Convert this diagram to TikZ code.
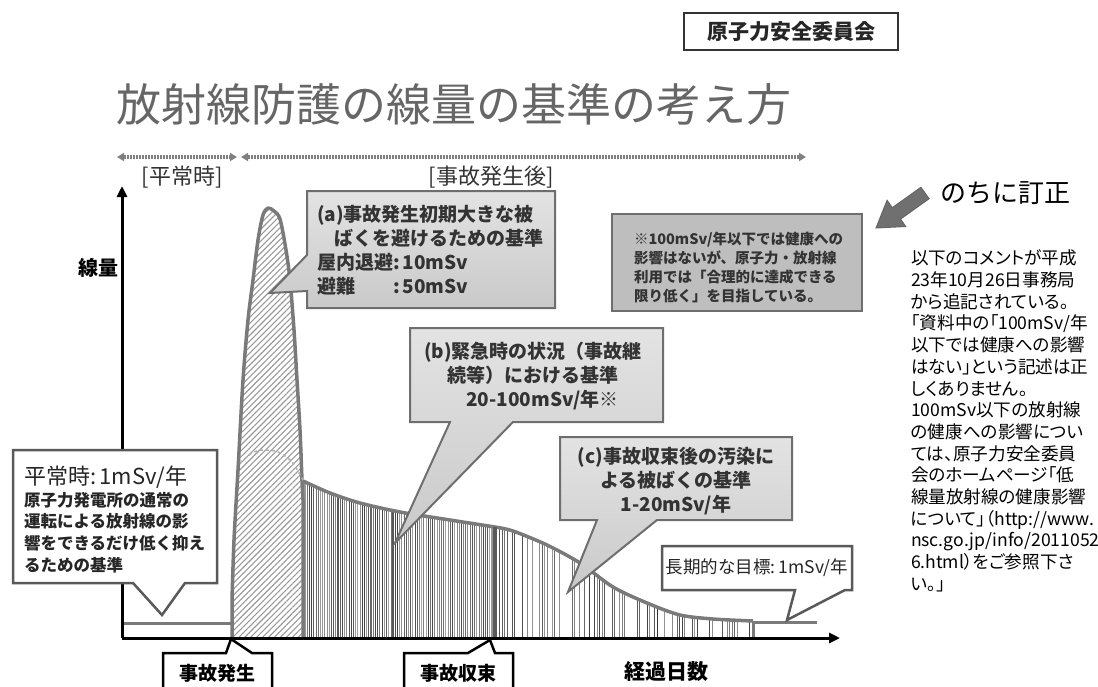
\documentclass[tikz,border=0pt]{standalone}
\usepackage{fontspec}
\setmainfont{Noto Sans CJK JP}
\newfontfamily\jpp{Noto Sans CJK JP}[RawFeature=+palt]
\usetikzlibrary{arrows.meta,patterns.meta}
\definecolor{curvegray}{HTML}{7A7A7A}
\definecolor{bordergray}{HTML}{6E6E6E}
\definecolor{titlegray}{HTML}{666666}
\definecolor{notefill}{HTML}{BEBEBE}
\definecolor{arrowgray}{HTML}{707070}
\newcommand\fsz[2]{\fontsize{#1}{#2}\selectfont}
\begin{document}
\begin{tikzpicture}[x=1pt,y=-1pt,
 every node/.style={inner sep=0pt, outer sep=0pt},
 callout/.style={draw=bordergray, line width=2pt, top color=gray!22, bottom color=gray!42},
 whitebox/.style={draw=black!65, line width=2.5pt, fill=white, line join=miter},
 blackbox/.style={draw=black, line width=2.5pt, fill=white},
 curveline/.style={draw=curvegray, line width=3.5pt, line join=round},
 axisline/.style={draw=black, line width=3pt, -{Triangle[length=11pt,width=10pt]}},
 periodarrow/.style={draw=black!50, line width=3.2pt, dash pattern=on 2pt off 1pt, {Triangle[length=7pt,width=8pt]}-{Triangle[length=7pt,width=8pt]}},
 calltext/.style={font=\fsz{19}{24}\bfseries, text=black!80},
]
\useasboundingbox (0,0) rectangle (1098,686);

% header
\node[draw=black!80, line width=1.5pt, minimum width=214pt, minimum height=37pt,
      font=\fsz{21}{24}\bfseries, text=black!85] (org) at (791,31.5) {原子力安全委員会};
\node[anchor=west, text=titlegray, font=\fsz{45}{50}] (title) at (116,104) {放射線防護の線量の基準の考え方};

% period arrows
\coordinate (nl) at (117,157); \coordinate (nr) at (237,157);
\coordinate (al) at (241,157); \coordinate (ar) at (806,157);
\draw[periodarrow] (nl) -- (nr);
\draw[periodarrow] (al) -- (ar);
\node[font=\fsz{22}{24}, text=black!80] (lnorm) at (182,177) {[平常時]};
\node[font=\fsz{22}{24}, text=black!80] (lacc) at (491,177) {[事故発生後]};

% normal-time level line
\draw[draw=curvegray, line width=3pt] (122,623) -- (232,623);

% spike (a)
\path[pattern={Lines[angle=45,distance=4.2pt,line width=1.1pt]}, pattern color=gray!80]
  (232,638) -- (232,600) -- plot[smooth] coordinates {(232,600) (234,540) (238,470) (243,380) (248,320) (253,280) (258,240) (263,215) (268,208) (274,211) (280,219) (286,250) (290,280) (294,330) (297,380) (300,430) (302,480) (303,500)} -- (303,638) -- cycle;

% region (b) vertical lines
\begin{scope}
\clip (304,638) -- (304,481) -- plot[smooth] coordinates {(304,481) (330,493) (360,503) (400,512) (450,520) (495,527)} -- (495,638) -- cycle;
\pgfmathsetseed{7}
\foreach \x in {305,307.2,...,494}{
  \pgfmathsetmacro\lw{0.5+0.9*rnd}
  \pgfmathtruncatemacro\gg{35+40*rnd}
  \draw[line width=\lw pt, draw=black!\gg] (\x,470) -- (\x,640);
}
\end{scope}
% region (c) vertical lines
\begin{scope}
\clip (495,638) -- (495,527) -- plot[smooth] coordinates {(495,527) (513,531) (547,545) (580,563) (613,587) (647,603) (680,615) (713,619) (753,621)} -- (753,638) -- cycle;
\pgfmathsetseed{11}
\foreach \x in {497,499.5,...,752}{
  \pgfmathtruncatemacro\on{rnd<0.55 ? 1 : 0}
  \pgfmathtruncatemacro\gg{40+40*rnd}
  \ifnum\on=1
    \draw[line width=1pt, draw=black!\gg] (\x,520) -- (\x,640);
  \fi
}
\end{scope}

% outlines
\draw[curveline] (232,638) -- (232,600) -- plot[smooth] coordinates {(232,600) (234,540) (238,470) (243,380) (248,320) (253,280) (258,240) (263,215) (268,208) (274,211) (280,219) (286,250) (290,280) (294,330) (297,380) (300,430) (302,480) (303,500)} -- (303,638);
\draw[curveline] plot[smooth] coordinates {(303,481) (330,493) (360,503) (400,512) (450,520) (495,527)};
\draw[curveline] plot[smooth] coordinates {(495,527) (513,531) (547,545) (580,563) (613,587) (647,603) (680,615) (713,619) (753,621)};
\draw[draw=black!65, line width=4pt] (495,527) -- (495,638);
\draw[draw=curvegray, line width=3pt] (753,621) -- (753,638);
\draw[draw=curvegray, line width=3pt] (753,622) -- (817,622);
\draw[draw=gray!60, line width=1.6pt, dashed] plot[smooth] coordinates {(240,463) (252,453) (263,450) (278,452) (292,462) (303,480)};

% axes
\coordinate (O) at (122,638);
\coordinate (ytop) at (122,186);
\coordinate (xend) at (840,638);
\draw[axisline] (O) -- (ytop);
\draw[axisline] (O) -- (xend);
\node[font=\fsz{20}{24}\bfseries] (ylab) at (98,268) {線量};
\node[font=\fsz{21}{24}\bfseries] (xlab) at (666,672) {経過日数};

% callout (a)
\path[callout] (307,191) -- (555,191) -- (555,308) -- (307,308) -- (307,291) -- (270,293) -- (307,255) -- cycle;
\node[calltext, anchor=north west, align=left] (ta) at (317,205)
 {(a)事故発生初期大きな被\\\hspace{0.9em}ばくを避けるための基準\\屋内退避:\,10mSv\\避難\hspace{2em}:\,50mSv};

% callout (b)
\path[callout] (410,328) -- (663,328) -- (663,422) -- (513,422) -- (395,543) -- (450,422) -- (410,422) -- cycle;
\node[calltext, anchor=north, align=center] (tb) at (533,342)
 {(b)緊急時の状況（事故継\\続等）における基準\\\hspace{1em}20-100mSv/年※};

% callout (c)
\path[callout] (560,437) -- (792,437) -- (792,520) -- (657,520) -- (568,592) -- (597,520) -- (560,520) -- cycle;
\node[calltext, anchor=north, align=center] (tc) at (676,447)
 {(c)事故収束後の汚染に\\よる被ばくの基準\\1-20mSv/年};

% normal-time box
\path[whitebox] (13,450) -- (217,450) -- (217,583) -- (185,583) -- (162,615) -- (133,583) -- (13,583) -- cycle;
\node[anchor=west, font=\fsz{22}{26}, text=black!85] (tn) at (24,477) {平常時:\,1mSv/年};
\node[anchor=north west, align=left, font=\fsz{16.5}{21.7}\bfseries, text=black!85] (tnb) at (24,492)
 {原子力発電所の通常の\\運転による放射線の影\\響をできるだけ低く抑え\\るための基準};

% long-term goal box
\path[whitebox] (662,546) -- (852,546) -- (852,590) -- (845,590) -- (787,620) -- (795,590) -- (662,590) -- cycle;
\node[font=\fsz{17.5}{22}, text=black!85] (tg) at (757,568) {長期的な目標:\,1mSv/年};

% note box
\node[draw=bordergray, line width=2pt, fill=notefill, minimum width=250pt, minimum height=97pt] (note) at (737,262.5) {};
\node[anchor=north west, align=left, font=\fsz{14.5}{19}\bfseries, text=black!80] (notetext) at (634,232)
 {※100mSv/年以下では健康への\\影響はないが、原子力・放射線\\利用では「合理的に達成できる\\限り低く」を目指している。};

% event labels
\path[blackbox] (163,687) -- (163,653) -- (226,653) -- (231,639) -- (252,653) -- (272,653) -- (272,687);
\node[font=\fsz{19}{22}\bfseries] (ev1) at (217,673) {事故発生};
\path[blackbox] (404,687) -- (404,653) -- (468,653) -- (490,640) -- (495,653) -- (513,653) -- (513,687);
\node[font=\fsz{19}{22}\bfseries] (ev2) at (458,673) {事故収束};

% correction arrow and text
\path[fill=arrowgray, draw=black!60, line width=1pt, line join=miter]
 (920.9,187.3) -- (892.3,207.7) -- (887.1,200.3) -- (876,228) -- (905.7,226.5) -- (900.5,219.1) -- (929.1,198.7) -- cycle;
\node[font=\fsz{26}{30}] (corr) at (1005,193) {のちに訂正};
\node[anchor=north west, align=left, font=\jpp\fsz{17.6}{21.7}] (comment) at (911,250)
 {以下のコメントが平成\\23年10月26日事務局\\から追記されている。\\「資料中の「100mSv/年\\以下では健康への影響\\はない」という記述は正\\しくありません。\\100mSv以下の放射線\\の健康への影響につい\\ては、原子力安全委員\\会のホームページ「低\\線量放射線の健康影響\\について」（http://www.\\nsc.go.jp/info/2011052\\6.html）をご参照下さ\\い。」};
\end{tikzpicture}
\end{document}
